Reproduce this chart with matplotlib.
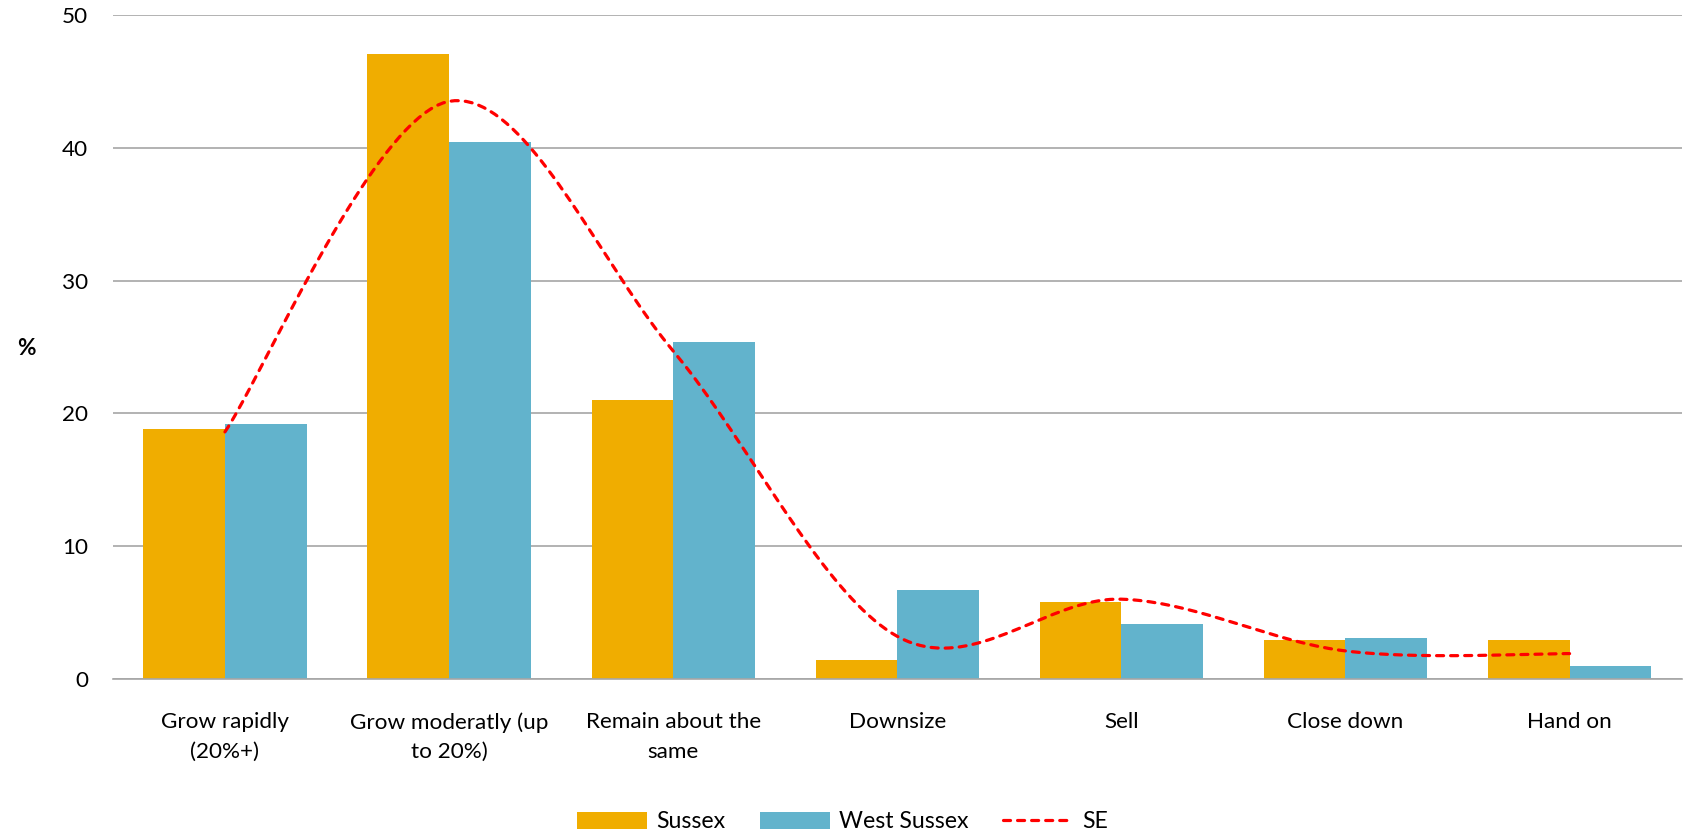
import numpy as np
import matplotlib
matplotlib.use("Agg")
import matplotlib.pyplot as plt

# business outlook, % of respondents
categories = ["Grow rapidly\n(20%+)", "Grow moderatly (up\nto 20%)", "Remain about the\nsame",
              "Downsize", "Sell", "Close down", "Hand on"]
sussex = [18.8, 47.1, 21.0, 1.4, 5.8, 2.9, 2.9]
west_sussex = [19.2, 40.4, 25.4, 6.7, 4.1, 3.1, 1.0]
se = [18.6, 43.5, 24.7, 3.2, 6.0, 2.1, 1.9]


def smooth(xs, ys, n=40):
    # Catmull-Rom style bezier through the points (like a spreadsheet "smoothed line")
    px = np.asarray(xs, float)
    py = np.asarray(ys, float)
    outx, outy = [], []
    m = len(px)
    for i in range(m - 1):
        i0 = max(i - 1, 0)
        i3 = min(i + 2, m - 1)
        p0 = np.array([px[i], py[i]])
        p3 = np.array([px[i + 1], py[i + 1]])
        c1 = p0 + (np.array([px[i + 1], py[i + 1]]) - np.array([px[i0], py[i0]])) / 6
        c2 = p3 - (np.array([px[i3], py[i3]]) - np.array([px[i], py[i]])) / 6
        t = np.linspace(0, 1, n)[:, None]
        seg = ((1 - t) ** 3) * p0 + 3 * ((1 - t) ** 2) * t * c1 + 3 * (1 - t) * t ** 2 * c2 + t ** 3 * p3
        outx.extend(seg[:, 0])
        outy.extend(seg[:, 1])
    return outx, outy


plt.rcParams["font.family"] = ["Lato", "DejaVu Sans"]
fs = 16.2

fig = plt.figure(figsize=(16.85, 8.36), dpi=100)
ax = fig.add_axes([0.067, 0.188, 0.931, 0.794])

x = np.arange(len(categories))
w = 0.364
b1 = ax.bar(x - w / 2, sussex, w, color="#F0AD00", label="Sussex", zorder=2)
b2 = ax.bar(x + w / 2, west_sussex, w, color="#62B3CC", label="West Sussex", zorder=2)
sx, sy = smooth(x, se)
ln, = ax.plot(sx, sy, color="#FF0000", lw=2.3, dashes=(2.2, 2.2), dash_capstyle="round",
              label="SE", zorder=3)

ax.set_xlim(-0.5, len(categories) - 0.5)
ax.set_ylim(0, 50)
ax.set_yticks([0, 10, 20, 30, 40, 50])
ax.yaxis.grid(True, color="#A6A6A6", lw=1.2, zorder=0)
ax.set_axisbelow(True)
for s in ["top", "right", "left"]:
    ax.spines[s].set_visible(False)
ax.spines["bottom"].set_color("#A6A6A6")
ax.spines["bottom"].set_linewidth(1.2)

ax.set_xticks(x)
ax.set_xticklabels(categories, linespacing=1.6)
ax.tick_params(axis="both", length=0, labelsize=fs, colors="#000000")
ax.tick_params(axis="x", pad=24)
ax.tick_params(axis="y", pad=18)

fig.text(0.0155, 1 - 348 / 836, "%", fontsize=fs, fontweight="bold", va="center", ha="center")

fig.legend([b1, b2, ln], ["Sussex", "West Sussex", "SE"],
           loc="center", bbox_to_anchor=(0.5, 1 - 822 / 836), ncol=3, frameon=False,
           fontsize=fs + 0.5, handlelength=3.0, handleheight=0.7, columnspacing=1.5,
           handletextpad=0.4)

fig.savefig("out.png", dpi=100)
